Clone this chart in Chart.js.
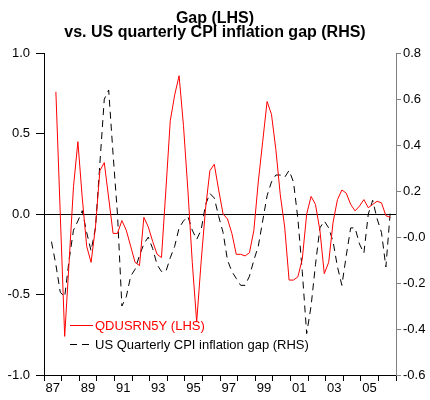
<!DOCTYPE html>
<html>
<head>
<meta charset="utf-8">
<script src="https://cdn.jsdelivr.net/npm/chart.js@4"></script>
<style>
  html, body { margin: 0; padding: 0; background: #fff; }
  #wrap { width: 430px; height: 400px; }
</style>
</head>
<body>
<div id="wrap"><canvas id="gapChart" width="430" height="400"></canvas></div>
<script>
// quarterly observations, first one is 1987 Q2
const firstYear = 1987;
const firstQuarter = 2;

// QDUSRN5Y (LHS) - starts 1987 Q3
const gapLHS = [
    null, 0.76, 0.0,
    -0.76, -0.3, 0.17, 0.45,
    0.1, -0.2, -0.3, -0.08,
    0.27, 0.32, 0.1, -0.12,
    -0.12, -0.04, -0.1, -0.2,
    -0.3, -0.32, -0.02, -0.08,
    -0.17, -0.25, -0.27, 0.15,
    0.58, 0.74, 0.86, 0.55,
    0.15, -0.3, -0.67, -0.3,
    0.03, 0.27, 0.31, 0.15,
    0.0, -0.03, -0.12, -0.25,
    -0.25, -0.26, -0.24, -0.1,
    0.2, 0.45, 0.7, 0.62,
    0.4, 0.12, -0.08, -0.41,
    -0.41, -0.39, -0.28, 0.0,
    0.11, 0.06, -0.1, -0.37,
    -0.3, -0.05, 0.09, 0.15,
    0.13, 0.06, 0.02, 0.05,
    0.09, 0.04, 0.06, 0.08,
    0.07, -0.01, -0.02
];

// US quarterly CPI inflation gap (RHS)
const cpiGapRHS = [
    -0.02, -0.12, -0.24,
    -0.26, -0.1, 0.03, 0.07,
    0.115, 0.02, -0.06, 0.04,
    0.32, 0.6, 0.64, 0.36,
    0.1, -0.3, -0.26, -0.17,
    -0.14, -0.08, -0.03, 0.0,
    -0.05, -0.12, -0.15, -0.15,
    -0.09, -0.04, 0.04, 0.07,
    0.09, 0.03, -0.01, 0.03,
    0.14, 0.19, 0.17, 0.09,
    0.02, -0.1, -0.15, -0.18,
    -0.21, -0.21, -0.17, -0.1,
    -0.04, 0.07, 0.18, 0.24,
    0.27, 0.27, 0.26, 0.29,
    0.24, 0.08, -0.15, -0.42,
    -0.3, -0.12, 0.04, 0.07,
    0.04, -0.02, -0.13, -0.21,
    -0.08, 0.04, 0.04, -0.03,
    -0.07, 0.1, 0.16, 0.08,
    0.02, -0.13, 0.11
];

const seriesNames = ['QDUSRN5Y (LHS)', 'US Quarterly CPI inflation gap (RHS)'];
const titleLines = ['Gap (LHS)', 'vs. US quarterly CPI inflation gap (RHS)'];

// position of each quarter on the year axis
function quarterX(i) {
    const q = firstQuarter - 1 + i;
    return firstYear + Math.floor(q / 4) + (q % 4) / 4 + 0.175;
}

function toPoints(values) {
    return values.map((v, i) => ({ x: quarterX(i), y: v }));
}

const FONT = "'Liberation Sans', Arial, sans-serif";

// legend drawn inside the plot, lower left
const insideLegend = {
    id: 'insideLegend',
    afterDraw(chart) {
        const ctx = chart.ctx;
        const area = chart.chartArea;
        const x0 = area.left + 26;
        let y = area.bottom - 50;
        ctx.save();
        ctx.font = '13px ' + FONT;
        ctx.textBaseline = 'middle';
        chart.data.datasets.forEach(ds => {
            ctx.strokeStyle = ds.borderColor;
            ctx.lineWidth = 1;
            ctx.setLineDash(ds.borderDash || []);
            ctx.beginPath();
            ctx.moveTo(x0, y + 0.5);
            ctx.lineTo(x0 + 23, y + 0.5);
            ctx.stroke();
            ctx.setLineDash([]);
            ctx.fillStyle = ds.legendText;
            ctx.fillText(ds.label, x0 + 25, y + 1);
            y += 19;
        });
        ctx.restore();
    }
};

const chart = new Chart(document.getElementById('gapChart'), {
    type: 'line',
    data: {
        datasets: [
            {
                label: seriesNames[0],
                data: toPoints(gapLHS),
                yAxisID: 'y',
                borderColor: '#ff0000',
                legendText: '#ff0000',
                borderWidth: 1,
                pointRadius: 0,
                tension: 0,
                fill: false
            },
            {
                label: seriesNames[1],
                data: toPoints(cpiGapRHS),
                yAxisID: 'y1',
                borderColor: '#000000',
                legendText: '#000000',
                borderDash: [7, 5],
                borderWidth: 1,
                pointRadius: 0,
                tension: 0,
                fill: false
            }
        ]
    },
    options: {
        responsive: false,
        animation: false,
        layout: { padding: { left: 0, right: 0, top: 0, bottom: 0 } },
        plugins: {
            legend: { display: false },
            tooltip: { enabled: false },
            title: {
                display: true,
                text: titleLines,
                color: '#000',
                font: { family: FONT, size: 16, weight: 'bold', lineHeight: 0.85 },
                padding: { top: 12, bottom: 14 }
            }
        },
        scales: {
            x: {
                type: 'linear',
                min: 1987,
                max: 2007,
                afterFit: s => { s.height = 25; },
                border: { color: '#000', width: 1 },
                grid: { drawOnChartArea: false, tickLength: 6, color: '#000' },
                ticks: {
                    stepSize: 1,
                    autoSkip: false,
                    maxRotation: 0,
                    labelOffset: 8.75,
                    padding: 0,
                    color: '#000',
                    font: { family: FONT, size: 13 },
                    callback: v => (v % 2 === 1 && v < 2007) ? String(v).slice(2) : ''
                }
            },
            y: {
                position: 'left',
                min: -1,
                max: 1,
                afterFit: s => { s.width = 44; },
                border: { color: '#000', width: 1 },
                grid: {
                    drawOnChartArea: true,
                    tickLength: 8,
                    color: c => c.tick && c.tick.value === 0 ? '#000' : 'rgba(0,0,0,0)',
                    tickColor: '#000'
                },
                ticks: {
                    stepSize: 0.5,
                    padding: 6,
                    color: '#000',
                    font: { family: FONT, size: 13 },
                    callback: v => v.toFixed(1)
                }
            },
            y1: {
                position: 'right',
                min: -0.6,
                max: 0.8,
                afterFit: s => { s.width = 34; },
                border: { color: '#808080', width: 1 },
                grid: { drawOnChartArea: false, tickLength: 5, color: '#808080' },
                ticks: {
                    stepSize: 0.2,
                    padding: 2,
                    color: '#000',
                    font: { family: FONT, size: 13 },
                    callback: v => Math.abs(v) < 1e-9 ? '-0.0' : v.toFixed(1)
                }
            }
        }
    },
    plugins: [insideLegend]
});
</script>
</body>
</html>
